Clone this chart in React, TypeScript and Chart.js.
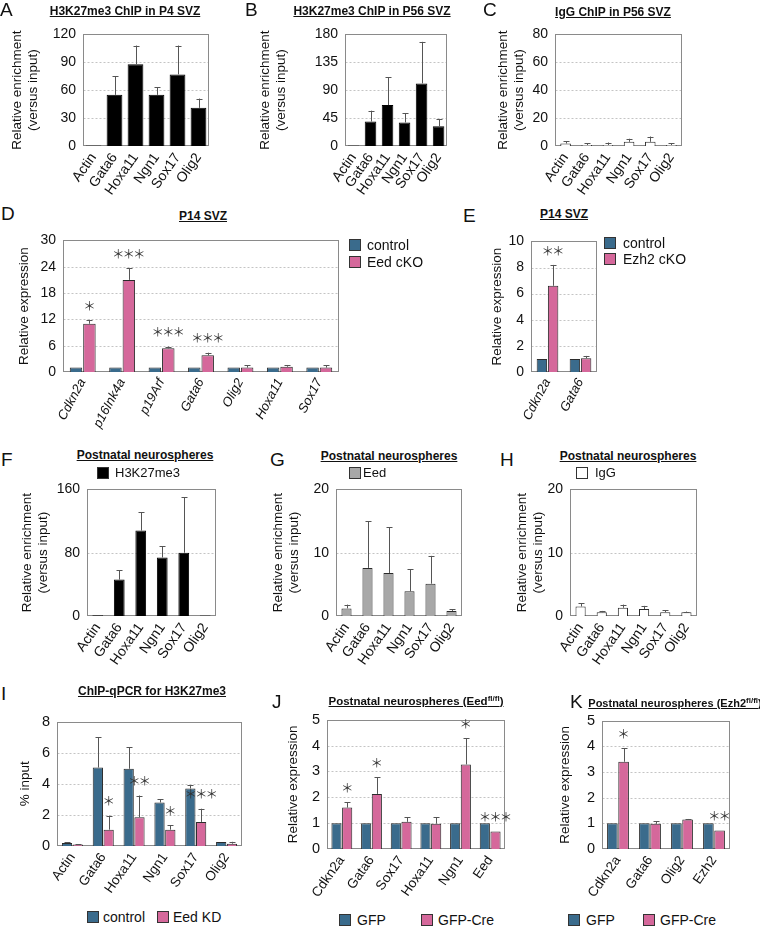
import React, { useEffect, useRef } from 'react';
import { Chart, registerables } from 'chart.js';
Chart.register(...registerables);

const FONT = "'Liberation Sans', Arial, Helvetica, sans-serif";
const BLUE = '#3a6b8c';
const PINK = '#d5689b';
const GRAY = '#a8a8a8';
const BLACK = '#000000';
const WHITE = '#ffffff';

// ---------- data ----------
const chipGenes = ['Actin', 'Gata6', 'Hoxa11', 'Ngn1', 'Sox17', 'Olig2'];

const aValues = [0.5, 55, 88, 55, 77, 41];
const aErr = [0, 20, 20, 8, 31, 10];

const bValues = [1, 39.5, 66, 38, 101, 32];
const bErr = [0, 17.5, 45, 15, 67, 11];

const cValues = [1.8, 0.7, 0.7, 3, 3, 0.7];
const cErr = [1.6, 1.3, 1.8, 2.2, 3.8, 1.3];

const dGenes = ['Cdkn2a', 'p16Ink4a', 'p19Arf', 'Gata6', 'Olig2', 'Hoxa11', 'Sox17'];
const dControl = [1, 1, 1, 1, 1, 1, 1];
const dEedCKO = [11, 21, 5.4, 3.8, 1.0, 1.2, 1.0];
const dEedCKOErr = [0.9, 2.6, 0.4, 0.6, 0.5, 0.4, 0.5];
const dStars = ['*', '***', '***', '***', '', '', ''];

const eGenes = ['Cdkn2a', 'Gata6'];
const eControl = [1, 1];
const eEzh2CKO = [6.6, 1.05];
const eEzh2CKOErr = [1.6, 0.18];
const eStars = ['**', ''];

const fValues = [1, 46, 108, 74, 80, 0.5];
const fErr = [0, 12, 23, 14, 70, 0];

const gValues = [1.2, 7.6, 6.8, 3.9, 5.1, 0.8];
const gErr = [0.6, 7.4, 7.2, 3.5, 4.4, 0.3];

const hValues = [1.5, 0.6, 1.3, 1.1, 0.6, 0.6];
const hErr = [0.5, 0.2, 0.5, 0.5, 0.3, 0.1];

const iControl = [0.2, 5.05, 4.97, 2.8, 3.7, 0.25];
const iControlErr = [0.05, 1.95, 1.4, 0.22, 0.22, 0];
const iEedKD = [0.1, 1.05, 1.85, 1.05, 1.55, 0.15];
const iEedKDErr = [0.02, 0.9, 1.4, 0.3, 0.85, 0.12];
const iStars = ['', '*', '**', '*', '***', ''];

const jGenes = ['Cdkn2a', 'Gata6', 'Sox17', 'Hoxa11', 'Ngn1', 'Eed'];
const jGFP = [1, 1, 1, 1, 1, 1];
const jGFPCre = [1.6, 2.13, 1.05, 0.98, 3.27, 0.68];
const jGFPCreErr = [0.2, 0.64, 0.17, 0.24, 1.01, 0];
const jStars = ['*', '*', '', '', '*', '***'];

const kGenes = ['Cdkn2a', 'Gata6', 'Olig2', 'Ezh2'];
const kGFP = [1, 1, 1, 1];
const kGFPCre = [3.4, 0.98, 1.15, 0.72];
const kGFPCreErr = [0.52, 0.1, 0.02, 0];
const kStars = ['*', '', '', '**'];

// ---------- plugin: box, dotted grid, error bars, stars ----------
const panelPlugin = {
  id: 'panelDecor',
  beforeDatasetsDraw(chart: any) {
    const { ctx, chartArea } = chart;
    const y = chart.scales.y;
    const l = Math.round(chartArea.left) + 0.5;
    const r = Math.round(chartArea.right) - 0.5;
    const t = Math.round(chartArea.top) + 0.5;
    const b = Math.round(chartArea.bottom) - 0.5;
    ctx.save();
    ctx.strokeStyle = '#c4c4c4';
    ctx.lineWidth = 1;
    ctx.setLineDash([2, 2]);
    const ticks = y.ticks;
    for (let k = 1; k < ticks.length - 1; k++) {
      const py = Math.round(y.getPixelForValue(ticks[k].value)) + 0.5;
      ctx.beginPath();
      ctx.moveTo(l, py);
      ctx.lineTo(r, py);
      ctx.stroke();
    }
    ctx.setLineDash([]);
    ctx.strokeStyle = '#8a8a8a';
    ctx.strokeRect(l, t, r - l, b - t);
    ctx.restore();
  },
  afterDatasetsDraw(chart: any) {
    const { ctx } = chart;
    const y = chart.scales.y;
    ctx.save();
    chart.data.datasets.forEach((ds: any, di: number) => {
      const meta = chart.getDatasetMeta(di);
      meta.data.forEach((bar: any, idx: number) => {
        const v = ds.data[idx];
        const e = ds.errors ? ds.errors[idx] : 0;
        const topPx = y.getPixelForValue(v + (e || 0));
        if (e && e > 0) {
          const x = Math.round(bar.x) + 0.5;
          ctx.strokeStyle = '#555';
          ctx.lineWidth = 1;
          ctx.beginPath();
          ctx.moveTo(x, y.getPixelForValue(v));
          ctx.lineTo(x, topPx);
          ctx.moveTo(x - 3, Math.round(topPx) + 0.5);
          ctx.lineTo(x + 3, Math.round(topPx) + 0.5);
          ctx.stroke();
        }
        const s = ds.stars ? ds.stars[idx] : '';
        if (s) {
          ctx.fillStyle = '#333';
          ctx.font = "12.5px 'Noto Sans CJK JP'";
          ctx.textAlign = 'center';
          ctx.textBaseline = 'middle';
          const n = s.length;
          for (let q = 0; q < n; q++) {
            ctx.fillText('＊', bar.x + (q - (n - 1) / 2) * 10.5, topPx - 14);
          }
        }
      });
    });
    ctx.restore();
  },
};

type DS = { data: number[]; err?: number[]; stars?: string[]; color: string };
type Cfg = {
  id: string;
  box: [number, number, number, number];
  yW: number;
  xH: number;
  labels: string[];
  datasets: DS[];
  yMax: number;
  yStep: number;
  yTitle: string | string[];
  yTitleSize: number;
  tickSize: number;
  xSize: number;
  rotation: number;
  italic?: boolean;
  barPct: number;
  catPct: number;
};

const enrich = ['Relative enrichment', '(versus input)'];

const panels: Cfg[] = [
  { id: 'A', box: [83, 27, 209, 146], yW: 74, xH: 50, labels: chipGenes, datasets: [{ data: aValues, err: aErr, color: BLACK }], yMax: 120, yStep: 30, yTitle: enrich, yTitleSize: 13.5, tickSize: 14, xSize: 14, rotation: 55, barPct: 0.75, catPct: 1 },
  { id: 'B', box: [345, 27, 449, 146], yW: 88, xH: 50, labels: chipGenes, datasets: [{ data: bValues, err: bErr, color: BLACK }], yMax: 180, yStep: 45, yTitle: enrich, yTitleSize: 13.5, tickSize: 14, xSize: 14, rotation: 55, barPct: 0.68, catPct: 1 },
  { id: 'C', box: [555, 27, 682, 146], yW: 60, xH: 50, labels: chipGenes, datasets: [{ data: cValues, err: cErr, color: WHITE }], yMax: 80, yStep: 20, yTitle: enrich, yTitleSize: 13.5, tickSize: 14, xSize: 14, rotation: 55, barPct: 0.5, catPct: 1 },
  { id: 'D', box: [63, 233, 339, 372], yW: 47, xH: 62, labels: dGenes, datasets: [{ data: dControl, color: BLUE }, { data: dEedCKO, err: dEedCKOErr, stars: dStars, color: PINK }], yMax: 30, yStep: 6, yTitle: 'Relative expression', yTitleSize: 13.5, tickSize: 14, xSize: 13, rotation: 62, italic: true, barPct: 0.93, catPct: 0.68 },
  { id: 'E', box: [531, 234, 597, 372], yW: 42, xH: 55, labels: eGenes, datasets: [{ data: eControl, color: BLUE }, { data: eEzh2CKO, err: eEzh2CKOErr, stars: eStars, color: PINK }], yMax: 10, yStep: 2, yTitle: 'Relative expression', yTitleSize: 13.5, tickSize: 14, xSize: 13, rotation: 62, italic: true, barPct: 0.93, catPct: 0.68 },
  { id: 'F', box: [87, 482, 216, 616], yW: 68, xH: 70, labels: chipGenes, datasets: [{ data: fValues, err: fErr, color: BLACK }], yMax: 160, yStep: 80, yTitle: enrich, yTitleSize: 13.5, tickSize: 14, xSize: 14, rotation: 55, barPct: 0.5, catPct: 1 },
  { id: 'G', box: [336, 482, 462, 616], yW: 66, xH: 70, labels: chipGenes, datasets: [{ data: gValues, err: gErr, color: GRAY }], yMax: 20, yStep: 10, yTitle: enrich, yTitleSize: 13.5, tickSize: 14, xSize: 14, rotation: 55, barPct: 0.48, catPct: 1 },
  { id: 'H', box: [570, 482, 697, 616], yW: 56, xH: 70, labels: chipGenes, datasets: [{ data: hValues, err: hErr, color: WHITE }], yMax: 20, yStep: 10, yTitle: enrich, yTitleSize: 13.5, tickSize: 14, xSize: 14, rotation: 55, barPct: 0.48, catPct: 1 },
  { id: 'I', box: [57, 714, 242, 846], yW: 40, xH: 55, labels: chipGenes, datasets: [{ data: iControl, err: iControlErr, color: BLUE }, { data: iEedKD, err: iEedKDErr, stars: iStars, color: PINK }], yMax: 8, yStep: 2, yTitle: '% input', yTitleSize: 13.5, tickSize: 14.5, xSize: 13.5, rotation: 55, barPct: 0.95, catPct: 0.7 },
  { id: 'J', box: [327, 712, 505, 849], yW: 42, xH: 55, labels: jGenes, datasets: [{ data: jGFP, color: BLUE }, { data: jGFPCre, err: jGFPCreErr, stars: jStars, color: PINK }], yMax: 5, yStep: 1, yTitle: 'Relative expression', yTitleSize: 13.5, tickSize: 14.5, xSize: 13.5, rotation: 55, barPct: 0.95, catPct: 0.72 },
  { id: 'K', box: [602, 713, 730, 849], yW: 45, xH: 55, labels: kGenes, datasets: [{ data: kGFP, color: BLUE }, { data: kGFPCre, err: kGFPCreErr, stars: kStars, color: PINK }], yMax: 5, yStep: 1, yTitle: 'Relative expression', yTitleSize: 13.5, tickSize: 14.5, xSize: 13.5, rotation: 55, barPct: 0.95, catPct: 0.7 },
];

const PAD_T = 8;
const PAD_R = 8;

function BarPanel({ cfg }: { cfg: Cfg }) {
  const ref = useRef<HTMLCanvasElement>(null);
  const [l, t, r, b] = cfg.box;
  const cx = l - cfg.yW;
  const cy = t - PAD_T;
  const w = r + PAD_R - cx;
  const h = b + cfg.xH - cy;
  useEffect(() => {
    const chart = new Chart(ref.current as HTMLCanvasElement, {
      type: 'bar',
      data: {
        labels: cfg.labels,
        datasets: cfg.datasets.map((d) => ({
          data: d.data,
          errors: d.err,
          stars: d.stars,
          backgroundColor: d.color,
          borderColor: d.color === BLACK ? BLACK : '#2b2b2b',
          borderWidth: 1,
          barPercentage: cfg.barPct,
          categoryPercentage: cfg.catPct,
        })) as any,
      },
      options: {
        responsive: false,
        animation: false,
        devicePixelRatio: 1,
        layout: { padding: { left: 0, top: PAD_T, right: PAD_R, bottom: 0 } },
        plugins: { legend: { display: false }, tooltip: { enabled: false }, title: { display: false } },
        scales: {
          x: {
            grid: { display: false, drawTicks: false },
            border: { display: false },
            ticks: {
              color: '#111',
              autoSkip: false,
              minRotation: cfg.rotation,
              maxRotation: cfg.rotation,
              padding: 4,
              font: { family: FONT, size: cfg.xSize, style: cfg.italic ? 'italic' : 'normal' },
            },
            afterFit: (s: any) => {
              s.height = cfg.xH;
            },
          },
          y: {
            min: 0,
            max: cfg.yMax,
            grid: { display: false, drawTicks: false },
            border: { display: false },
            ticks: { stepSize: cfg.yStep, color: '#111', padding: 7, font: { family: FONT, size: cfg.tickSize } },
            title: { display: true, text: cfg.yTitle, color: '#111', padding: 0, font: { family: FONT, size: cfg.yTitleSize } },
            afterFit: (s: any) => {
              s.width = cfg.yW;
            },
          },
        },
      } as any,
      plugins: [panelPlugin],
    });
    return () => chart.destroy();
  }, []);
  return (
    <canvas
      ref={ref}
      width={w}
      height={h}
      style={{ position: 'absolute', left: cx, top: cy, width: w, height: h }}
    />
  );
}

const letters: [string, number, number][] = [
  ['A', 0, 0], ['B', 245, 0], ['C', 483, 0],
  ['D', 1, 204], ['E', 463, 206],
  ['F', 1, 450], ['G', 270, 450], ['H', 500, 450],
  ['I', 1, 684], ['J', 272, 692], ['K', 570, 692],
];

const sup = { fontSize: 8, verticalAlign: 4 } as const;

// [text, center x, center y, font size]
const titles: [React.ReactNode, number, number, number][] = [
  ['H3K27me3 ChIP in P4 SVZ', 125, 11, 12],
  ['H3K27me3 ChIP in P56 SVZ', 372, 11, 12],
  ['IgG ChIP in P56 SVZ', 613, 12, 12],
  ['P14 SVZ', 203, 216, 12],
  ['P14 SVZ', 564, 214, 12],
  ['Postnatal neurospheres', 145, 455, 12],
  ['Postnatal neurospheres', 389, 456, 12],
  ['Postnatal neurospheres', 628, 456, 12],
  ['ChIP-qPCR for H3K27me3', 152, 691, 12],
  [<span>Postnatal neurospheres (Eed<sup style={sup}>fl/fl</sup>)</span>, 416, 699, 11.5],
  [<span>Postnatal neurospheres (Ezh2<sup style={sup}>fl/fl</sup>)</span>, 675, 701, 11],
];

// legend entries: square x, center y, text x, label, fill, font size
const legends: [number, number, number, string, string, number][] = [
  [349, 245, 367, 'control', BLUE, 14],
  [349, 262, 367, 'Eed cKO', PINK, 14],
  [604, 243, 623, 'control', BLUE, 14],
  [604, 259, 623, 'Ezh2 cKO', PINK, 14],
  [97, 473, 115, 'H3K27me3', BLACK, 13],
  [349, 473, 363, 'Eed', GRAY, 13],
  [576, 473, 595, 'IgG', WHITE, 13],
  [87, 917, 103, 'control', BLUE, 14],
  [157, 917, 173, 'Eed KD', PINK, 14],
  [339, 920, 357, 'GFP', BLUE, 14],
  [421, 920, 438, 'GFP-Cre', PINK, 14],
  [568, 920, 586, 'GFP', BLUE, 14],
  [643, 920, 660, 'GFP-Cre', PINK, 14],
];

export default function App() {
  return (
    <div
      style={{
        position: 'absolute',
        left: 0,
        top: 0,
        width: 760,
        height: 926,
        background: '#fff',
        overflow: 'hidden',
        fontFamily: FONT,
        color: '#111',
      }}
    >
      {panels.map((p) => (
        <BarPanel key={p.id} cfg={p} />
      ))}
      {letters.map(([s, x, y]) => (
        <div key={s} style={{ position: 'absolute', left: x, top: y, fontSize: 19, lineHeight: '19px' }}>
          {s}
        </div>
      ))}
      {titles.map(([s, x, y, fs], i) => (
        <div
          key={i}
          style={{
            position: 'absolute',
            left: x - 150,
            top: y - 7,
            width: 300,
            textAlign: 'center',
            fontSize: fs,
            lineHeight: '14px',
            fontWeight: 'bold',
            textDecoration: 'underline',
            whiteSpace: 'nowrap',
          }}
        >
          {s}
        </div>
      ))}
      {legends.map(([sx, cy, tx, label, fill, fs], i) => (
        <React.Fragment key={i}>
          <div
            style={{
              position: 'absolute',
              left: sx,
              top: cy - 6,
              width: 10,
              height: 10,
              background: fill,
              border: '1px solid #333',
            }}
          />
          <div style={{ position: 'absolute', left: tx, top: cy - 9, fontSize: fs, lineHeight: '18px', whiteSpace: 'nowrap' }}>
            {label}
          </div>
        </React.Fragment>
      ))}
    </div>
  );
}
